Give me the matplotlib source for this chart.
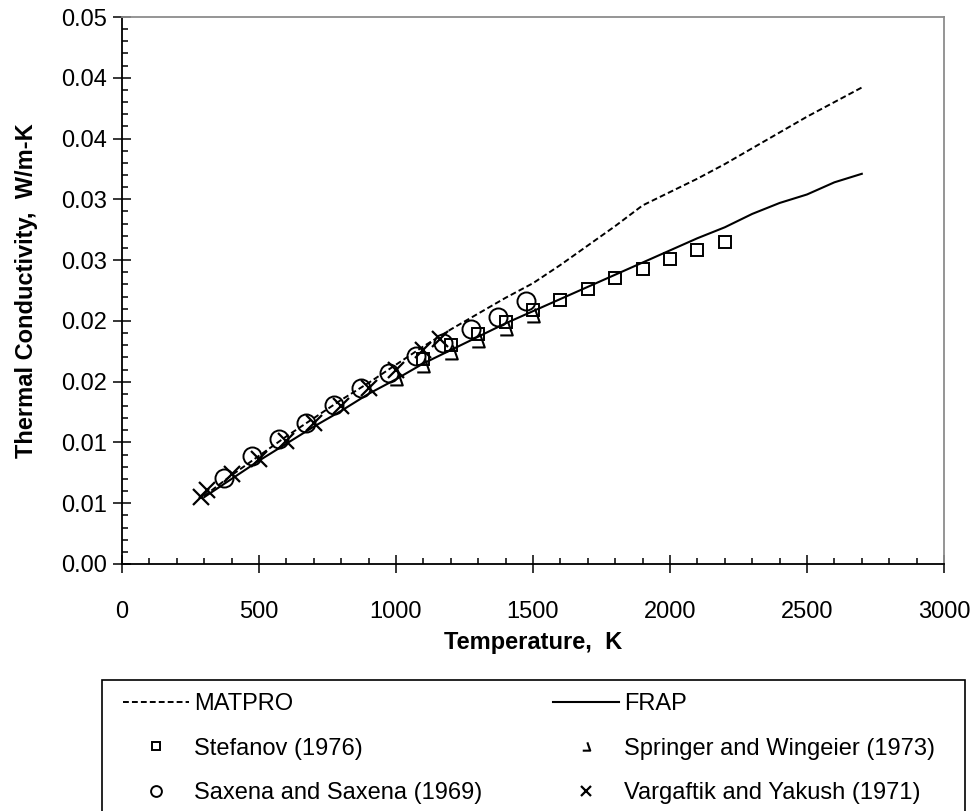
import matplotlib.pyplot as plt
from matplotlib.path import Path
from matplotlib.patches import Rectangle
from matplotlib.ticker import MultipleLocator

plt.rcParams['font.family'] = ['Liberation Sans', 'DejaVu Sans']

# correlation curves (K, W/m-K)
line_temp = [300, 400, 500, 600, 700, 800, 900, 1000, 1100, 1200, 1300, 1400,
             1500, 1600, 1700, 1800, 1900, 2000, 2100, 2200, 2300, 2400, 2500,
             2600, 2700]
matpro_k = [0.0056, 0.0073, 0.0089, 0.0105, 0.0120, 0.0135, 0.0149, 0.0164,
            0.0179, 0.0193, 0.0206, 0.0219, 0.0231, 0.0246, 0.0262, 0.0278,
            0.0295, 0.0306, 0.0317, 0.0329, 0.0342, 0.0355, 0.0368, 0.0380,
            0.0392]
frap_k = [0.0055, 0.0070, 0.0085, 0.0099, 0.0113, 0.0126, 0.0140, 0.0152,
          0.0165, 0.0176, 0.0187, 0.0198, 0.0208, 0.0218, 0.0228, 0.0238,
          0.0248, 0.0258, 0.0268, 0.0277, 0.0288, 0.0297, 0.0304, 0.0314,
          0.0321]

# measurements
stefanov_temp = [1100, 1200, 1300, 1400, 1500, 1600, 1700, 1800, 1900, 2000, 2100, 2200]
stefanov_k = [0.0169, 0.0180, 0.0189, 0.0199, 0.0209, 0.0217, 0.0226, 0.0235,
              0.0243, 0.0251, 0.0258, 0.0265]
springer_temp = [1000, 1100, 1200, 1300, 1400, 1500]
springer_k = [0.0153, 0.0164, 0.0174, 0.0184, 0.0194, 0.0205]
saxena_temp = [373, 473, 573, 673, 773, 873, 973, 1073, 1173, 1273, 1373, 1473]
saxena_k = [0.0071, 0.0089, 0.0103, 0.0116, 0.0131, 0.0145, 0.0157, 0.0171,
            0.0182, 0.0193, 0.0203, 0.0216]
vargaftik_temp = [290, 310, 400, 500, 600, 700, 800, 900, 1000, 1100, 1160]
vargaftik_k = [0.0055, 0.0061, 0.0074, 0.0086, 0.0101, 0.0116, 0.0130, 0.0145,
               0.0160, 0.0176, 0.0185]

y_ticks = [0.0, 0.005, 0.01, 0.015, 0.02, 0.025, 0.03, 0.035, 0.04, 0.045]
y_tick_labels = ['0.00', '0.01', '0.01', '0.02', '0.02', '0.03', '0.03', '0.04', '0.04', '0.05']

# half-triangle marker (right side + base)
corner = Path([(0.1, 0.5), (0.45, -0.5), (-0.45, -0.5)],
              [Path.MOVETO, Path.LINETO, Path.LINETO])

fig = plt.figure(figsize=(9.75, 8.11), dpi=100)
ax = fig.add_axes([122 / 975, 1 - 564 / 811, 822 / 975, 547 / 811])

ax.plot(line_temp, matpro_k, color='black', lw=1.4, ls=(0, (3, 1.6)), label='MATPRO')
ax.plot(line_temp, frap_k, color='black', lw=1.5, label='FRAP')
ax.plot(stefanov_temp, stefanov_k, ls='none', marker='s', ms=8.5, mfc='none',
        mec='black', mew=1.4, label='Stefanov (1976)')
ax.plot(springer_temp, springer_k, ls='none', marker=corner, ms=10, mfc='none',
        mec='black', mew=1.5, label='Springer and Wingeier (1973)')
ax.plot(saxena_temp, saxena_k, ls='none', marker='o', ms=13, mfc='none',
        mec='black', mew=1.4, label='Saxena and Saxena (1969)')
ax.plot(vargaftik_temp, vargaftik_k, ls='none', marker='x', ms=11.5,
        mec='black', mew=1.6, label='Vargaftik and Yakush (1971)')

ax.set_xlim(0, 3000)
ax.set_ylim(0, 0.045)
ax.xaxis.set_major_locator(MultipleLocator(500))
ax.xaxis.set_minor_locator(MultipleLocator(100))
ax.set_yticks(y_ticks)
ax.set_yticklabels(y_tick_labels)
ax.yaxis.set_minor_locator(MultipleLocator(0.001))

ax.tick_params(which='major', direction='inout', length=13, width=1.1, labelsize=17)
ax.tick_params(which='minor', direction='in', length=4, width=1.1)
ax.tick_params(axis='x', which='major', pad=20)
ax.tick_params(axis='y', which='major', pad=4)
ax.tick_params(top=False, right=False, which='both')

for side in ['left', 'bottom']:
    ax.spines[side].set_linewidth(1.3)
for side in ['top', 'right']:
    ax.spines[side].set_color('#8c8c8c')
    ax.spines[side].set_linewidth(1.3)

ax.set_xlabel('Temperature,  K', fontsize=17, fontweight='bold', labelpad=6)
ax.set_ylabel('Thermal Conductivity,  W/m-K', fontsize=17, fontweight='bold', labelpad=17)

# legend box (runs off the bottom of the figure)
fig.patches.append(Rectangle((102 / 975, -0.05), (965 - 102) / 975, 0.05 + (811 - 680) / 811,
                             transform=fig.transFigure, fill=False,
                             edgecolor='black', linewidth=1.2))

handles, labels = ax.get_legend_handles_labels()
order = [0, 2, 4, 1, 3, 5]
leg = fig.legend([handles[i] for i in order], [labels[i] for i in order],
                 loc='upper left', bbox_to_anchor=(123 / 975, 1 - 693 / 811),
                 ncol=2, fontsize=17, frameon=False, borderpad=0, borderaxespad=0,
                 handlelength=2.8, handletextpad=0.2, columnspacing=3.0,
                 labelspacing=0.96, markerscale=0.6)

fig.savefig('out.png', dpi=100)
